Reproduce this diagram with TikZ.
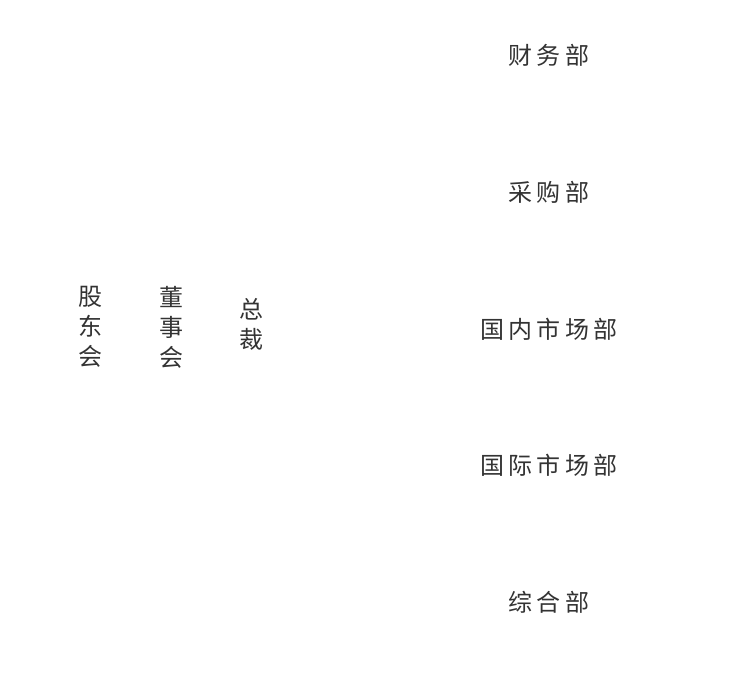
\documentclass[tikz,border=0pt]{standalone}
\usepackage{fontspec}
\newfontfamily\cjk[LetterSpace=18]{Noto Sans CJK SC}
\newfontfamily\cjkv{Noto Sans CJK SC}
\usetikzlibrary{positioning}
\definecolor{inkgray}{HTML}{333333}
\tikzset{
  dept/.style={text=inkgray, font=\cjk\fontsize{24}{30}\selectfont, inner sep=0pt},
  board/.style={text=inkgray, font=\cjkv\fontsize{24}{30}\selectfont, align=center, inner sep=0pt},
}
\begin{document}
\begin{tikzpicture}[x=1pt,y=1pt]
			%%%%% START %%%%%
			\useasboundingbox (0, 0) rectangle (750, 694);
			
			\node[board] (gudong) at (90, 367) {股\\东\\会};
			\node[board] (dongshi) at (171, 367) {董\\事\\会};
			\node[board] (zongcai) at (251, 370) {总\\裁};
			
			\node[dept] (caiwu) at (549, 639) {财务部};
			\node[dept] (caigou) at (549, 502) {采购部};
			\node[dept] (guonei) at (549, 365) {国内市场部};
			\node[dept] (guoji) at (549, 229) {国际市场部};
			\node[dept] (zonghe) at (549, 92) {综合部};
			
			%%%%% END %%%%%
\end{tikzpicture}
\end{document}
